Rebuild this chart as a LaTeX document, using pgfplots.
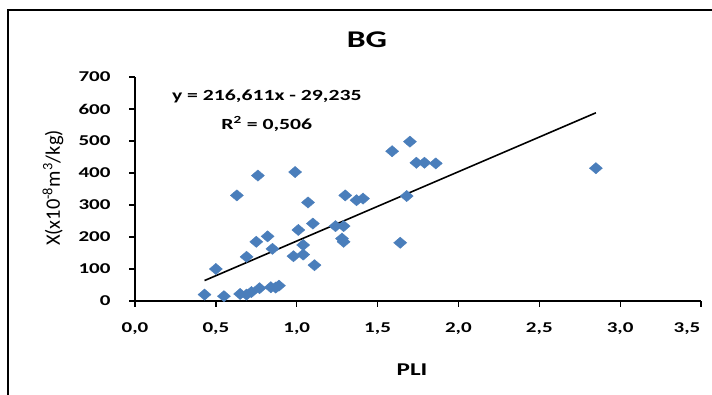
\documentclass[border=0pt]{standalone}
\usepackage{fontspec}
\setmainfont{Carlito}[FakeStretch=1.4]
\newfontfamily\ylabfont{Carlito}
\usepackage{pgfplots}
\pgfplotsset{compat=1.18}
\definecolor{mkblue}{RGB}{74,126,187}
\begin{document}
\begin{tikzpicture}
\useasboundingbox (0,0) rectangle (712pt,395pt);
\fill[white] (0,0) rectangle (712pt,395pt);
\draw[line width=1.8pt] (8pt,0) -- (8pt,385pt) -- (712pt,385pt);
\node[font=\bfseries\fontsize{24}{26}\selectfont] at (367pt,355pt) {BG};
\begin{axis}[
  at={(135pt,94pt)}, anchor=south west,
  scale only axis, width=566pt, height=224pt,
  xmin=0, xmax=3.5, ymin=0, ymax=700,
  axis x line=bottom, axis y line=left,
  axis line style={-, line width=1.6pt},
  tick style={black, line width=1.3pt},
  major tick length=6pt,
  tick align=outside,
  xtick={0,0.5,1,1.5,2,2.5,3},
  xticklabels={0{,}0,0{,}5,1{,}0,1{,}5,2{,}0,2{,}5,3{,}0},
  extra x ticks={3.5},
  extra x tick labels={3{,}5},
  extra x tick style={xticklabel style={xshift=-14pt}},
  ytick={0,100,...,700},
  yticklabels={0,100,200,300,400,500,600,700},
  ticklabel style={font=\bfseries\fontsize{15}{17}\selectfont},
  xticklabel style={yshift=-12pt},
  yticklabel style={anchor=east, xshift=-15pt},
  xlabel={PLI},
  xlabel style={font=\bfseries\fontsize{18}{20}\selectfont, yshift=-11pt, xshift=-6pt},
  clip=false,
]
\addplot[only marks, mark=diamond*, mark size=5.6pt, mark options={xscale=1.55, fill=mkblue, draw=mkblue}] table {
x y
0.43 20
0.55 15
0.50 100
0.65 22
0.69 20
0.72 28
0.77 40
0.84 43
0.87 42
0.89 48
0.69 138
0.75 185
0.82 202
0.85 163
0.63 330
0.76 392
0.99 403
0.98 140
1.04 145
1.04 175
1.01 222
1.07 308
1.10 242
1.11 112
1.24 234
1.29 234
1.28 195
1.29 185
1.30 330
1.37 315
1.41 320
1.59 468
1.70 498
1.74 432
1.79 432
1.86 430
1.68 328
1.64 182
2.85 415
};
\addplot[black, line width=1.6pt] coordinates {(0.43,63.9) (2.85,588.1)};
\node[font=\bfseries\fontsize{15.5}{17}\selectfont] at (axis cs:0.815,638) {y = 216,611x - 29,235};
\node[font=\bfseries\fontsize{15.5}{17}\selectfont] at (axis cs:0.815,553) {R\textsuperscript{2} = 0,506};
\end{axis}
\node at (53pt,207pt) {\rotatebox{90}{\ylabfont\fontsize{20.5}{22}\selectfont X(x10\textsuperscript{-8}m\textsuperscript{3}/kg)}};
\end{tikzpicture}
\end{document}
